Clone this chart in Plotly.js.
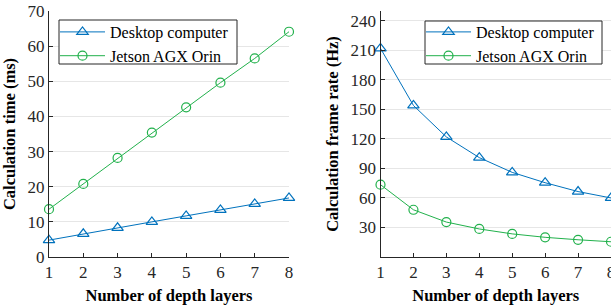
<!DOCTYPE html>
<html><head><meta charset="utf-8">
<script src="https://cdn.plot.ly/plotly-3.0.1.min.js"></script>
<style>html,body{margin:0;padding:0;overflow:hidden;background:#fff}#c{width:611px;height:308px}</style>
</head><body><div id="c"></div>
<script>
const layers = [1, 2, 3, 4, 5, 6, 7, 8];
const desktopTime = [4.8, 6.6, 8.3, 10.0, 11.7, 13.4, 15.1, 16.8];
const jetsonTime = [13.6, 20.8, 28.2, 35.4, 42.6, 49.6, 56.5, 64.1];
const desktopRate = [212, 154, 122, 101, 86, 75.5, 66.5, 60];
const jetsonRate = [73.5, 48, 35.5, 28.5, 23.5, 20, 17.5, 15.5];
const seriesNames = ['Desktop computer', 'Jetson AGX Orin'];
const timeTicks = [0, 10, 20, 30, 40, 50, 60, 70];
const rateTicks = [30, 60, 90, 120, 150, 180, 210, 240];

const blue = '#0072BD', green = '#22b14c';
const F = 'Liberation Serif';
const W = 611, H = 308;
const plotH = H - 11 - 51;
const py = p => (257 - p) / plotH;   // pixel row -> paper y
const px = p => p / W;               // pixel col -> paper x

function tr(y, name, color, sym, xa, ya, lg) {
  return {x: layers, y: y, name: name, type: 'scatter', mode: 'lines+markers',
    xaxis: xa, yaxis: ya, legend: lg, cliponaxis: false,
    line: {color: color, width: 1},
    marker: {symbol: sym, size: sym === 'triangle-up-open' ? 10 : 9, color: color, line: {width: 1.2, color: color}}};
}
const data = [
  tr(desktopTime, seriesNames[0], blue, 'triangle-up-open', 'x', 'y', 'legend'),
  tr(jetsonTime, seriesNames[1], green, 'circle-open', 'x', 'y', 'legend'),
  tr(desktopRate, seriesNames[0], blue, 'triangle-up-open', 'x2', 'y2', 'legend2'),
  tr(jetsonRate, seriesNames[1], green, 'circle-open', 'x2', 'y2', 'legend2')
];
const axBase = {showline: true, linecolor: '#262626', linewidth: 1, ticks: 'inside', ticklen: 4,
  tickcolor: '#262626', tickfont: {family: F, size: 17, color: '#262626'}, zeroline: false,
  ticklabeloverflow: 'allow'};
const titleFont = {family: F, size: 16.5, color: '#000', weight: 'bold'};
const legBase = {bgcolor: 'rgba(0,0,0,0)', borderwidth: 0,
  font: {family: F, size: 16, color: '#000'}, itemwidth: 45, xanchor: 'left', yanchor: 'top',
  tracegroupgap: 0};
const boxStyle = {type: 'rect', xref: 'paper', yref: 'paper', layer: 'above',
  fillcolor: '#fff', line: {color: '#262626', width: 1}};
const layout = {
  width: W, height: H, margin: {l: 0, r: 0, t: 11, b: 51},
  paper_bgcolor: '#fff', plot_bgcolor: '#fff', showlegend: true,
  xaxis: Object.assign({}, axBase, {domain: [px(49), px(289)], range: [1, 8], tickvals: layers,
    showgrid: false, title: {text: 'Number of depth layers', font: titleFont, standoff: 8}}),
  yaxis: Object.assign({}, axBase, {range: [0, 70], tickvals: timeTicks, showgrid: true, gridcolor: '#e6e6e6',
    title: {text: 'Calculation time (ms)', font: titleFont}}),
  xaxis2: Object.assign({}, axBase, {domain: [px(380.5), 1], range: [1, 8], tickvals: layers, anchor: 'y2',
    showgrid: false, title: {text: 'Number of depth layers', font: titleFont, standoff: 8}}),
  yaxis2: Object.assign({}, axBase, {range: [0, 250], tickvals: rateTicks, anchor: 'x2', showgrid: true, gridcolor: '#e6e6e6',
    title: {text: 'Calculation frame rate (Hz)', font: titleFont}}),
  legend: Object.assign({}, legBase, {x: px(55), y: py(15)}),
  legend2: Object.assign({}, legBase, {x: px(421), y: py(15)}),
  shapes: [
    Object.assign({}, boxStyle, {x0: px(59), x1: px(237), y0: py(64), y1: py(20)}),
    Object.assign({}, boxStyle, {x0: px(425), x1: px(602), y0: py(64), y1: py(21)})
  ]
};
Plotly.newPlot('c', data, layout, {displayModeBar: false, staticPlot: true});
</script></body></html>
